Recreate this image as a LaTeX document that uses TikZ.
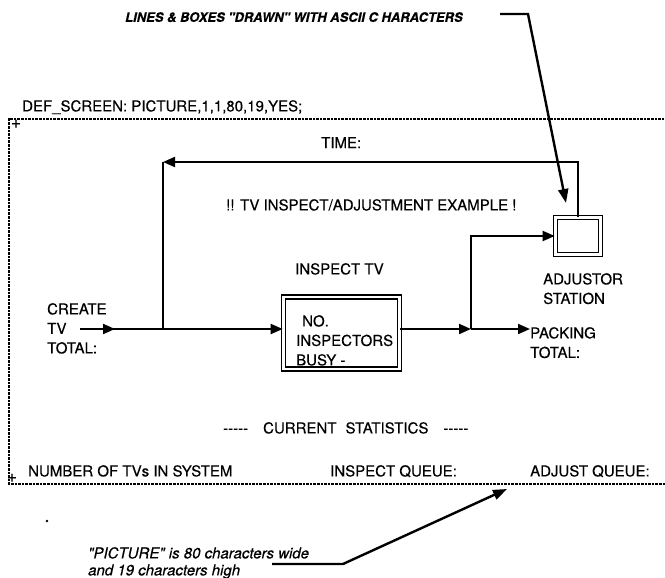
\documentclass[tikz,border=0pt]{standalone}
\usepackage{fontspec}
\setmainfont{TeX Gyre Heros}
\newfontfamily\scanfont[FakeBold=0.4]{TeX Gyre Heros}
\usetikzlibrary{arrows.meta, decorations.markings}
\tikzset{
  scr/.style={font=\scanfont\fontsize{15}{19.5}\selectfont, inner sep=0pt, anchor=north west, align=left},
  memo/.style={font=\scanfont\fontsize{15}{17}\selectfont\itshape, inner sep=0pt, anchor=north west, align=left},
  wire/.style={line width=2pt},
  flow/.style={wire, -{Triangle[length=12pt, width=10pt]}},
  pointer/.style={line width=2.4pt, -{Triangle[length=14pt, width=10pt]}},
  dbox/.style={draw, double, line width=1.6pt, double distance=2.6pt, inner sep=0pt},
  screen/.style={line width=1.5pt, dash pattern=on 2.6pt off 1pt},
  midtip/.style={postaction={decorate}, decoration={markings,
    mark=at position #1 with {\arrow{Triangle[length=12pt, width=10pt]}}}},
}

\begin{document}
\begin{tikzpicture}[x=1pt, y=-1pt]
\useasboundingbox (0,0) rectangle (665,578);
% the 80 x 19 screen, framed with ascii dashes
\draw[screen] (668,119) -| (9,484) -- (668,484);
\node[scr, anchor=center, font=\scanfont\fontsize{17}{17}\selectfont] (cornerA) at (16,124) {+};
\node[scr, anchor=center, font=\scanfont\fontsize{17}{17}\selectfont] (cornerB) at (12,478) {+};
\node[scr] (defscreen) at (22,100) {DEF\_SCREEN: PICTURE,1,1,80,19,YES;};
% texts on the screen
\node[scr] (time) at (321,137) {TIME:};
\node[scr] (title) at (226,199) {!! TV INSPECT/ADJUSTMENT EXAMPLE !};
\node[scr] (insptv) at (295,263) {INSPECT TV};
\node[scr] (adjlbl) at (543,273) {ADJUSTOR\\STATION};
\node[scr] (create) at (47,303) {CREATE\\TV\\TOTAL:};
\node[scr] (packing) at (530,327) {PACKING\\TOTAL:};
\node[scr] (stats) at (223,422) {-{}-{}-{}-{}-\hspace{15pt}CURRENT\hspace{9pt}STATISTICS\hspace{15pt}-{}-{}-{}-{}-};
\node[scr] (tvsys) at (28,465) {NUMBER OF TVs IN SYSTEM};
\node[scr] (inspq) at (330,465) {INSPECT QUEUE:};
\node[scr] (adjq) at (530,465) {ADJUST QUEUE:};
% boxes drawn with double lines
\node[dbox, minimum width=116pt, minimum height=72pt] (insp) at (341.5,333) {};
\node[scr] (busy) at (296,315) {\hspace*{6pt}NO.\\INSPECTORS\\BUSY -};
\node[dbox, minimum width=45pt, minimum height=37pt] (adj) at (578,236) {};
% flow of the TVs
\coordinate (src) at (80,329);
\coordinate (split) at (163,329);
\coordinate (ret) at (163,162);
\coordinate (join) at (471,329);
\draw[wire, midtip=35pt] (src) -- (split);
\draw[flow] (split) -- (split -| insp.west);
\draw[flow] (adj.north) |- (ret);
\draw[wire] (ret) -- (split);
\draw[flow] (split -| insp.east) -- (join);
\draw[flow] (join) -- (join -| packing.west);
\draw[flow] (join) |- (adj.west);
% notes outside the screen
\node[memo, font=\scanfont\fontsize{13}{15}\selectfont\bfseries\itshape] (asciinote) at (125,12) {LINES \& BOXES "DRAWN" WITH ASCII C HARACTERS};
\node[memo] (sizenote) at (88,547) {"PICTURE" is 80 characters wide\\and 19 characters high};
\coordinate (lead1) at (500,14);
\coordinate (bend1) at (528,14);
\coordinate (tip1) at (566,203);
\draw[pointer] (lead1) -- (bend1) -- (tip1);
\coordinate (lead2) at (272,564);
\coordinate (bend2) at (343,564);
\coordinate (tip2) at (507,489);
\draw[pointer] (lead2) -- (bend2) -- (tip2);
\fill (47,521) circle (1.3pt);
\end{tikzpicture}
\end{document}
